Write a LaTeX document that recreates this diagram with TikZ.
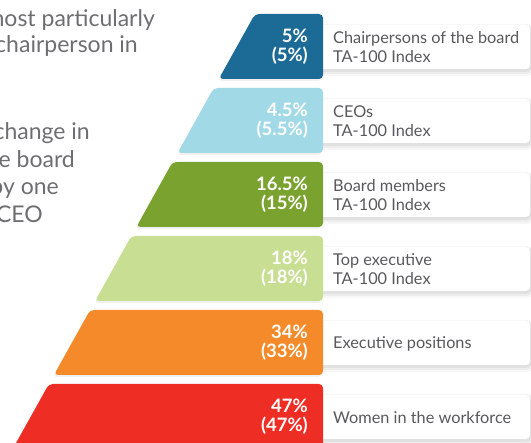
\documentclass[tikz,border=0pt]{standalone}
\usepackage{fontspec}
\setmainfont{Lato}
\usetikzlibrary{shadows}
\definecolor{cDark}{HTML}{1C6A96}
\definecolor{cLight}{HTML}{A1DAE6}
\definecolor{cGreen}{HTML}{79A22F}
\definecolor{cPale}{HTML}{C8DE92}
\definecolor{cOrange}{HTML}{F48A29}
\definecolor{cRed}{HTML}{EE2E24}
\definecolor{txtgray}{HTML}{58595B}
\definecolor{leftgray}{HTML}{6D6E71}
\tikzset{
  tier/.style={rounded corners=4pt, drop shadow={shadow xshift=-1pt, shadow yshift=-2pt, opacity=0.12}},
  labelbox/.style={fill=white, rounded corners=4pt},
  boxshade/.style={fill=black, rounded corners=5pt},
  pct/.style={text=white, font=\bfseries\fontsize{18.5}{19}\selectfont, align=right, anchor=east, inner sep=0pt},
  lbl/.style={text=txtgray, font=\fontsize{16.3}{19}\selectfont, align=left, anchor=west, inner sep=0pt},
  lefttxt/.style={text=leftgray, font=\fontsize{23}{27}\selectfont, anchor=base east, inner sep=0pt},
}
\begin{document}
\begin{tikzpicture}[x=1pt,y=-1pt]
\useasboundingbox (0,0) rectangle (531,443);
% left paragraph text
\node[lefttxt] (l1) at (155,27) {most particularly};
\node[lefttxt] (l2) at (138,53) {chairperson in};
\node[lefttxt] (l3) at (90,140) {change in};
\node[lefttxt] (l4) at (75,168) {the board};
\node[lefttxt] (l5) at (59,195) {by one};
\node[lefttxt] (l6) at (43,223) {a CEO};
% tiers
\foreach \i/\col/\pa/\pb/\lab in {
  0/cDark/5\%/(5\%)/{Chairpersons of the board\\TA-100 Index},
  1/cLight/4.5\%/(5.5\%)/{CEOs\\TA-100 Index},
  2/cGreen/16.5\%/(15\%)/{Board members\\TA-100 Index},
  3/cPale/18\%/(18\%)/{Top executive\\TA-100 Index},
  4/cOrange/34\%/(33\%)/{Executive positions},
  5/cRed/47\%/(47\%)/{Women in the workforce}}{
  \pgfmathsetmacro{\T}{14+74*\i}
  \pgfmathsetmacro{\B}{\T+65}
  \pgfmathsetmacro{\xa}{255-0.557*(\T-14)}
  \pgfmathsetmacro{\xb}{255-0.557*(\B-14)}
  \fill[boxshade, opacity=0.03] (316,\T+10) rectangle (533,\T+62);
  \fill[boxshade, opacity=0.04] (317,\T+11) rectangle (532,\T+60);
  \fill[boxshade, opacity=0.05] (318,\T+12) rectangle (531.5,\T+58);
  \fill[labelbox] (318,\T+11) rectangle (530,\T+55);
  \fill[tier, fill=\col] (\xb,\B) -- (\xa,\T) -- (323,\T) -- (323,\B) -- cycle;
  \node[pct] (p\i) at (308,\T+33) {\pa\\\pb};
  \node[lbl] (t\i) at (333,\T+33.5) {\lab};
}
\end{tikzpicture}
\end{document}
